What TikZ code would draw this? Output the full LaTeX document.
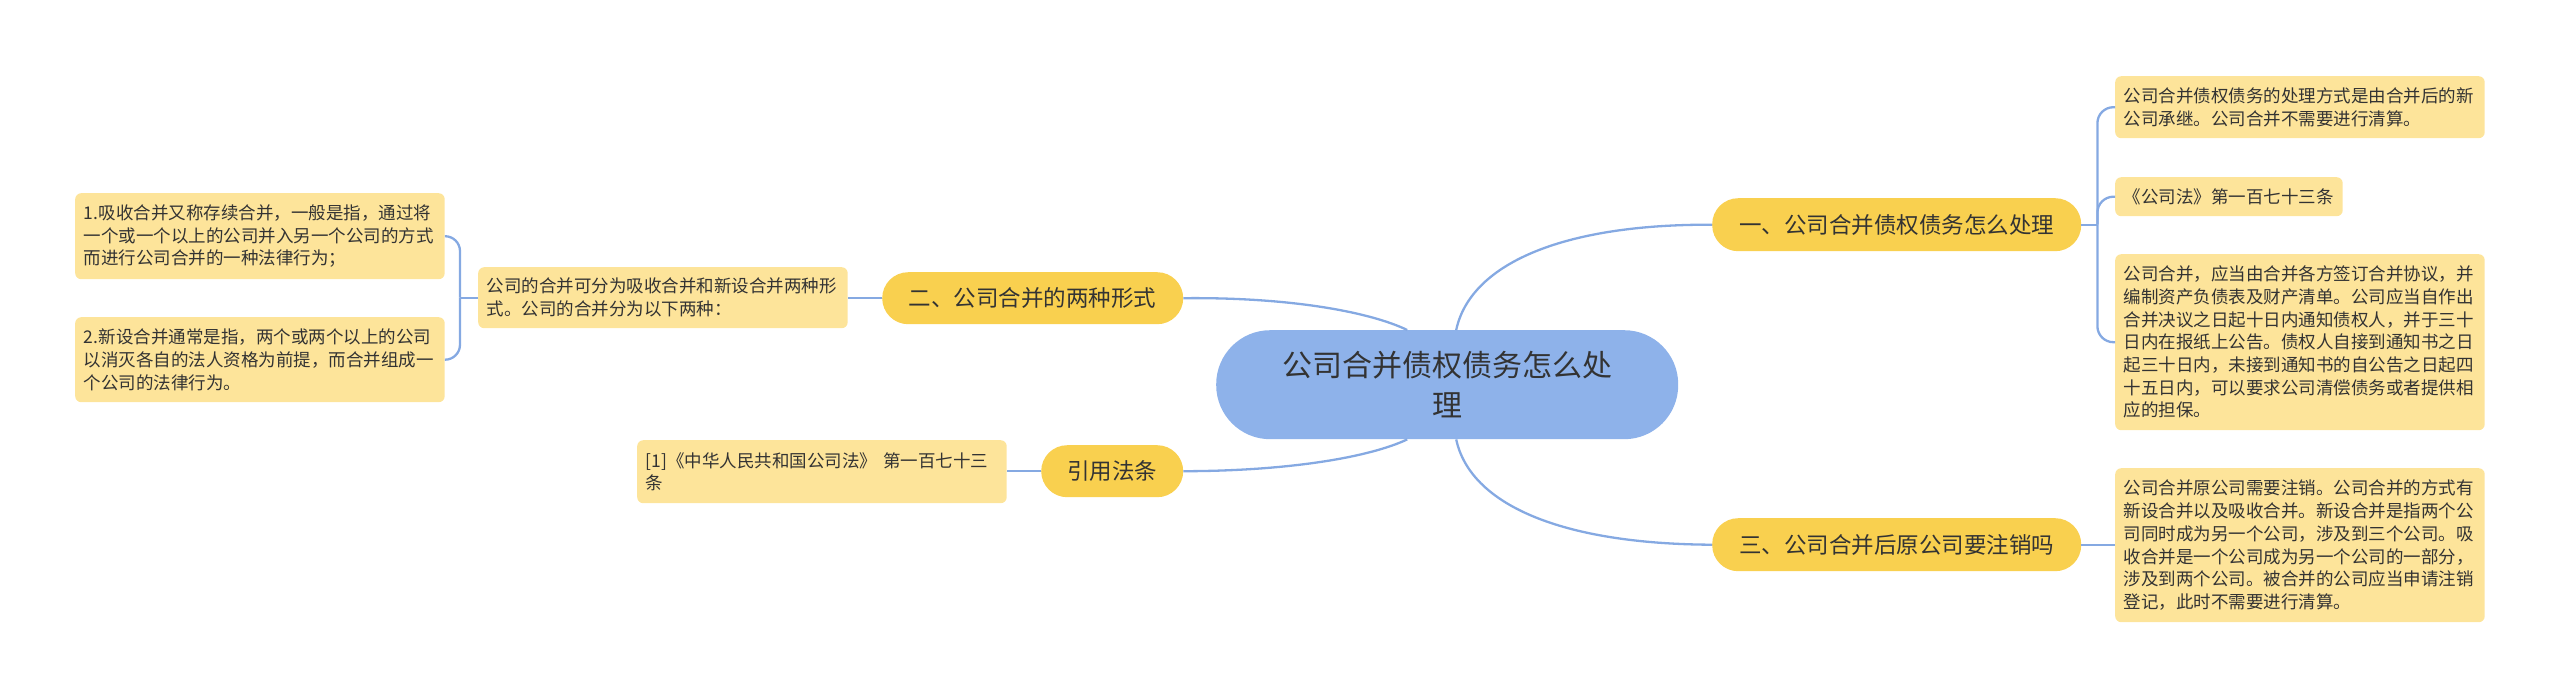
\documentclass[tikz,border=0pt]{standalone}
\usepackage{fontspec}
\newfontfamily\cjkf{Noto Sans CJK SC}
\definecolor{cline}{HTML}{85A9E2}
\definecolor{cleaf}{HTML}{FDE49A}
\definecolor{cbranch}{HTML}{F9D04F}
\definecolor{ccenter}{HTML}{8EB2EA}
\definecolor{ctext}{HTML}{333333}
\begin{document}
\begin{tikzpicture}[x=1pt,y=-1pt,
  leaf/.style={anchor=north west, fill=cleaf, rounded corners=6pt, inner xsep=8.75pt, inner ysep=0pt, align=left, text=ctext, font=\cjkf\fontsize{17.5}{22.7}\selectfont},
  wleaf/.style={leaf, text width=352pt},
  branch/.style={anchor=north west, fill=cbranch, rounded corners=26pt, inner sep=0pt, align=center, text=ctext, font=\cjkf\fontsize{22.5}{28}\selectfont, minimum height=53pt},
  conn/.style={draw=cline, line width=2.3pt}
]
\useasboundingbox (0,0) rectangle (2560,697);

% central topic
\node[anchor=north west, fill=ccenter, rounded corners=54pt, minimum width=462pt, minimum height=109pt, inner sep=0pt, align=center, text=ctext, font=\cjkf\fontsize{30}{40}\selectfont] (c) at (1216,330) {公司合并债权债务怎么处\\理};

% branches
\node[branch, minimum width=369pt] (b1) at (1712,198) {一、公司合并债权债务怎么处理};
\node[branch, minimum width=369pt] (b3) at (1712,518) {三、公司合并后原公司要注销吗};
\node[branch, minimum width=301pt, minimum height=52pt] (b2) at (882,272) {二、公司合并的两种形式};
\node[branch, minimum width=142pt, minimum height=52pt] (b4) at (1041,445) {引用法条};

% right leaves
\node[wleaf, minimum height=62pt] (l1) at (2115,76) {公司合并债权债务的处理方式是由合并后的新\\公司承继。公司合并不需要进行清算。};
\node[leaf, minimum height=39pt] (l2) at (2115,177) {《公司法》第一百七十三条};
\node[wleaf, minimum height=176pt] (l3) at (2115,254) {公司合并，应当由合并各方签订合并协议，并\\编制资产负债表及财产清单。公司应当自作出\\合并决议之日起十日内通知债权人，并于三十\\日内在报纸上公告。债权人自接到通知书之日\\起三十日内，未接到通知书的自公告之日起四\\十五日内，可以要求公司清偿债务或者提供相\\应的担保。};
\node[wleaf, minimum height=154pt] (l4) at (2115,468) {公司合并原公司需要注销。公司合并的方式有\\新设合并以及吸收合并。新设合并是指两个公\\司同时成为另一个公司，涉及到三个公司。吸\\收合并是一个公司成为另一个公司的一部分，\\涉及到两个公司。被合并的公司应当申请注销\\登记，此时不需要进行清算。};

% left leaves
\node[wleaf, minimum height=61pt] (lf) at (478,267) {公司的合并可分为吸收合并和新设合并两种形\\式。公司的合并分为以下两种：};
\node[wleaf, minimum height=86pt] (la) at (75,193) {1.吸收合并又称存续合并，一般是指，通过将\\一个或一个以上的公司并入另一个公司的方式\\而进行公司合并的一种法律行为；};
\node[wleaf, minimum height=85pt] (lb) at (75,317) {2.新设合并通常是指，两个或两个以上的公司\\以消灭各自的法人资格为前提，而合并组成一\\个公司的法律行为。};
\node[wleaf, minimum height=63pt] (lc) at (637,440) {[1]《中华人民共和国公司法》 第一百七十三\\条};

% connectors from centre
\draw[conn] ([xshift=9pt]c.north) .. controls (1470,265) and (1560,224) .. (b1.west);
\draw[conn] ([xshift=9pt]c.south) .. controls (1470,504) and (1560,544) .. (b3.west);
\draw[conn] ([xshift=-40pt]c.north) .. controls (1370,312) and (1290,297) .. (b2.east);
\draw[conn] ([xshift=-40pt]c.south) .. controls (1370,457) and (1290,471) .. (b4.east);

% right bracket
\draw[conn] (b1.east) -- ++(16,0) coordinate (j1);
\draw[conn, rounded corners=16pt] (j1) |- (l1.west);
\draw[conn, rounded corners=16pt] (j1) |- (l2.west);
\draw[conn, rounded corners=16pt] (j1) |- (l3.west);
\draw[conn] (b3.east) -- (b3.east -| l4.west);

% left side
\draw[conn] (b2.west) -- (b2.west -| lf.east);
\draw[conn] (lf.west) -- ++(-18,0) coordinate (j2);
\draw[conn, rounded corners=15pt] (j2) |- (la.east);
\draw[conn, rounded corners=15pt] (j2) |- (lb.east);
\draw[conn] (b4.west) -- (b4.west -| lc.east);
\end{tikzpicture}
\end{document}
